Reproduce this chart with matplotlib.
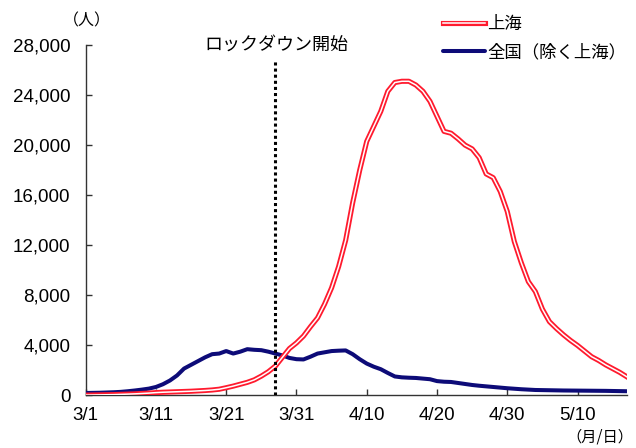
import matplotlib
matplotlib.use("Agg")
import matplotlib.pyplot as plt
import matplotlib.patheffects as pe
import numpy as np

# ---- data (7-day average of new cases) ----
dates = [f"{m}/{d}" for m, n in ((3, 31), (4, 30), (5, 17)) for d in range(1, n + 1)]

shanghai = [30, 40, 50, 60, 70, 90, 110, 130, 160, 190,
            230, 260, 280, 300, 320, 340, 370, 400, 440, 500,
            620, 750, 900, 1050, 1250, 1550, 1900, 2350, 3050, 3750,
            4200, 4750, 5500, 6200, 7300, 8600, 10300, 12400, 15400, 18000,
            20300, 21500, 22700, 24300, 25000, 25100, 25100, 24800, 24300, 23500,
            22300, 21100, 20950, 20500, 20000, 19700, 19000, 17700, 17400, 16300,
            14700, 12300, 10600, 9100, 8300, 6900, 5900, 5350, 4850, 4400,
            4000, 3550, 3100, 2800, 2450, 2150, 1850, 1500]

others = [200, 210, 220, 240, 260, 290, 340, 400, 470, 550,
          680, 900, 1200, 1600, 2150, 2450, 2750, 3050, 3300, 3350,
          3550, 3350, 3500, 3700, 3650, 3620, 3500, 3350, 3200, 3000,
          2900, 2880, 3100, 3350, 3450, 3550, 3580, 3600, 3300, 2900,
          2550, 2300, 2100, 1800, 1520, 1450, 1420, 1400, 1350, 1300,
          1150, 1100, 1080, 1000, 920, 840, 780, 730, 680, 630,
          580, 540, 500, 470, 440, 430, 420, 410, 400, 395,
          390, 385, 380, 375, 370, 360, 350, 340]

tick_labels = ["3/1", "3/11", "3/21", "3/31", "4/10", "4/20", "4/30", "5/10"]
y_ticks = [0, 4000, 8000, 12000, 16000, 20000, 24000, 28000]
lockdown_date = "3/28"
lockdown_text = "ロックダウン開始"
label_shanghai = "上海"
label_others = "全国（除く上海）"

# ---- figure ----
NUM_FONT = "Liberation Sans"
JP_FONT = ["Noto Sans CJK JP", "DejaVu Sans"]

fig = plt.figure(figsize=(6.36, 4.48), dpi=100)
ax = fig.add_axes([0.1347, 0.1172, 0.8507, 0.7824])

x = np.arange(len(dates))
lock_x = dates.index(lockdown_date)

ax.vlines(lock_x, 0, 26700, colors="black", linestyles=(0, (1, 1)),
          linewidth=2.2, zorder=5)

ax.plot(x, others, color="#0d0b78", linewidth=2.9, solid_capstyle="round",
        solid_joinstyle="round", label=label_others, zorder=3)

ax.plot(x, shanghai, color="white", linewidth=1.1, solid_joinstyle="round",
        label=label_shanghai, zorder=4,
        path_effects=[pe.Stroke(linewidth=3.7, foreground="#ff1a2e"), pe.Normal()])

ax.set_xlim(0, len(dates) - 1)
ax.set_ylim(0, 28000)

ax.set_xticks([dates.index(t) for t in tick_labels])
ax.set_xticklabels(tick_labels)
ax.set_yticks(y_ticks)
ax.set_yticklabels([f"{v:,}" for v in y_ticks])

for lab in ax.get_xticklabels() + ax.get_yticklabels():
    lab.set_fontfamily(NUM_FONT)
    lab.set_fontsize(13.5)

ax.tick_params(axis="both", direction="in", length=4, width=1, color="#333333")
ax.tick_params(axis="y", pad=11)
ax.tick_params(axis="x", pad=8)

for side in ("top", "right"):
    ax.spines[side].set_visible(False)
for side in ("left", "bottom"):
    ax.spines[side].set_color("#333333")
    ax.spines[side].set_linewidth(1)

ax.text(lock_x + 0.1, 28000, lockdown_text, ha="center", va="center",
        fontsize=13, family=JP_FONT)

fig.text(87 / 636, 1 - 21 / 448, "（人）", ha="center", va="center",
         fontsize=11.5, family=JP_FONT)
fig.text(633 / 636, 1 - 437 / 448, "（月/日）", ha="right", va="center",
         fontsize=11, family=JP_FONT)

handles, labels = ax.get_legend_handles_labels()
order = [1, 0]
leg = fig.legend([handles[i] for i in order], [labels[i] for i in order],
                 loc="upper left", bbox_to_anchor=(443 / 636, 1 - 15 / 448),
                 frameon=False, handlelength=2.4, handletextpad=0.15,
                 labelspacing=0.6, borderpad=0, borderaxespad=0,
                 prop={"family": JP_FONT, "size": 12.5})

fig.savefig("out.png", dpi=100)
